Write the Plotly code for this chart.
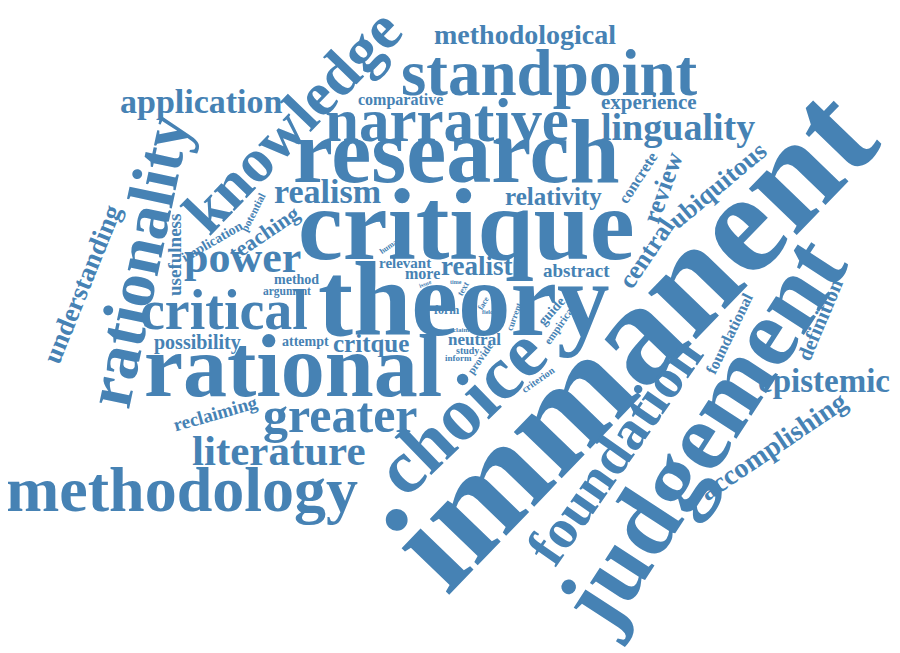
import plotly.graph_objects as go

# ---- data: words and their weights (rendered font size, px) ----
words = [
    "immanent", "theory", "critique", "research", "rational", "judgement",
    "methodology", "standpoint", "knowledge", "rationality", "narrative",
    "choice", "foundation", "critical", "greater", "power", "literature",
    "linguality", "realism", "epistemic", "application", "methodological",
    "accomplishing", "understanding", "relativity", "critque", "realist",
    "central", "review", "ubiquitous", "teaching", "experience",
    "possibility", "reclaiming", "usefulness", "definition", "abstract",
    "neutral", "comparative", "foundational", "concrete", "more",
    "relevant", "implication", "method", "attempt", "guide", "form",
    "argument", "potential", "empirical", "study", "provide", "criterion",
    "inform", "text", "current", "human", "face", "claim", "issue",
    "time", "field",
]
weights = [
    145, 105, 101, 90, 88, 97,
    64, 65, 62, 66, 61,
    76, 56, 56, 50, 44, 43,
    38, 34, 33, 34, 28,
    28, 27, 25, 25, 27,
    26, 26, 26, 22, 21,
    20, 19, 19, 21, 19,
    17, 16, 16, 16, 16,
    15, 14, 14, 14, 14, 12,
    11.5, 11, 11, 10, 11, 10,
    9, 9, 9, 8, 8, 7, 6,
    6, 6,
]

# ---- placement (layout, not data): centre x, centre y (px), rotation (deg) ----
placement = {
    "immanent": (630, 336, -46), "theory": (464, 298, 0), "critique": (466, 224, 0),
    "research": (456, 150, 0), "rational": (293, 365, 0), "judgement": (701, 432, -57),
    "methodology": (182, 488, 0), "standpoint": (549, 72, 0), "knowledge": (292, 120, -46),
    "rationality": (137, 260, -78), "narrative": (447, 119, 0), "choice": (460, 410, -44),
    "foundation": (614, 450, -55), "critical": (224, 309, 0), "greater": (340, 414, 0),
    "power": (242, 256, 0), "literature": (279, 449, 0), "linguality": (678, 126, 0),
    "realism": (327, 190, 0), "epistemic": (824, 380, 0), "application": (201, 100, 0),
    "methodological": (525, 33, 0), "accomplishing": (772, 445, -34),
    "understanding": (82, 283, -68), "relativity": (553, 195, 0), "critque": (371, 342, 0),
    "realist": (476, 265, 0), "central": (646, 252, -56), "review": (662, 187, -70),
    "ubiquitous": (717, 184, -40), "teaching": (263, 232, -34), "experience": (649, 101, 0),
    "possibility": (197, 341, 0), "reclaiming": (215, 412, -16), "usefulness": (174, 254, -90),
    "definition": (820, 319, -67), "abstract": (576, 269, 0), "neutral": (474, 338, 0),
    "comparative": (400, 99, 0), "foundational": (729, 332, -64), "concrete": (637, 177, -57),
    "more": (422, 272, 0), "relevant": (405, 262, 0), "implication": (212, 240, -30),
    "method": (296, 278, 0), "attempt": (305, 340, 0), "guide": (551, 310, -48),
    "form": (446, 309, 0), "argument": (287, 290, 0), "potential": (253, 211, -63),
    "empirical": (559, 324, -55), "study": (467, 349, 0), "provide": (480, 357, -55),
    "criterion": (538, 378, -35), "inform": (458, 357, 0), "text": (463, 288, -60),
    "current": (514, 316, -70), "human": (390, 244, -35), "face": (483, 302, -60),
    "claim": (461, 329, 0), "issue": (425, 283, -20), "time": (456, 281, 0),
    "field": (488, 311, 0),
}
# global correction between the annotation box centre and the visual word centre
DX, DY = -8, -7

COLOR = "#4682B4"
FONT = "Liberation Serif"

fig = go.Figure()
# invisible anchor trace so the axes exist
fig.add_trace(go.Scatter(x=[0, 900], y=[0, 653], mode="markers",
                         marker=dict(opacity=0), hoverinfo="skip", showlegend=False))

annotations = []
for w, s in zip(words, weights):
    x, y, a = placement[w]
    annotations.append(dict(
        x=x + DX, y=y + DY, xref="x", yref="y", text="<b>%s</b>" % w, showarrow=False,
        textangle=a, xanchor="center", yanchor="middle", borderpad=0,
        font=dict(family=FONT, size=s, color=COLOR),
    ))

fig.update_layout(
    width=900, height=653, margin=dict(l=0, r=0, t=0, b=0),
    paper_bgcolor="white", plot_bgcolor="white",
    xaxis=dict(range=[0, 900], visible=False, fixedrange=True),
    yaxis=dict(range=[653, 0], visible=False, fixedrange=True),
    annotations=annotations, showlegend=False,
)
fig.write_html("out.html")
